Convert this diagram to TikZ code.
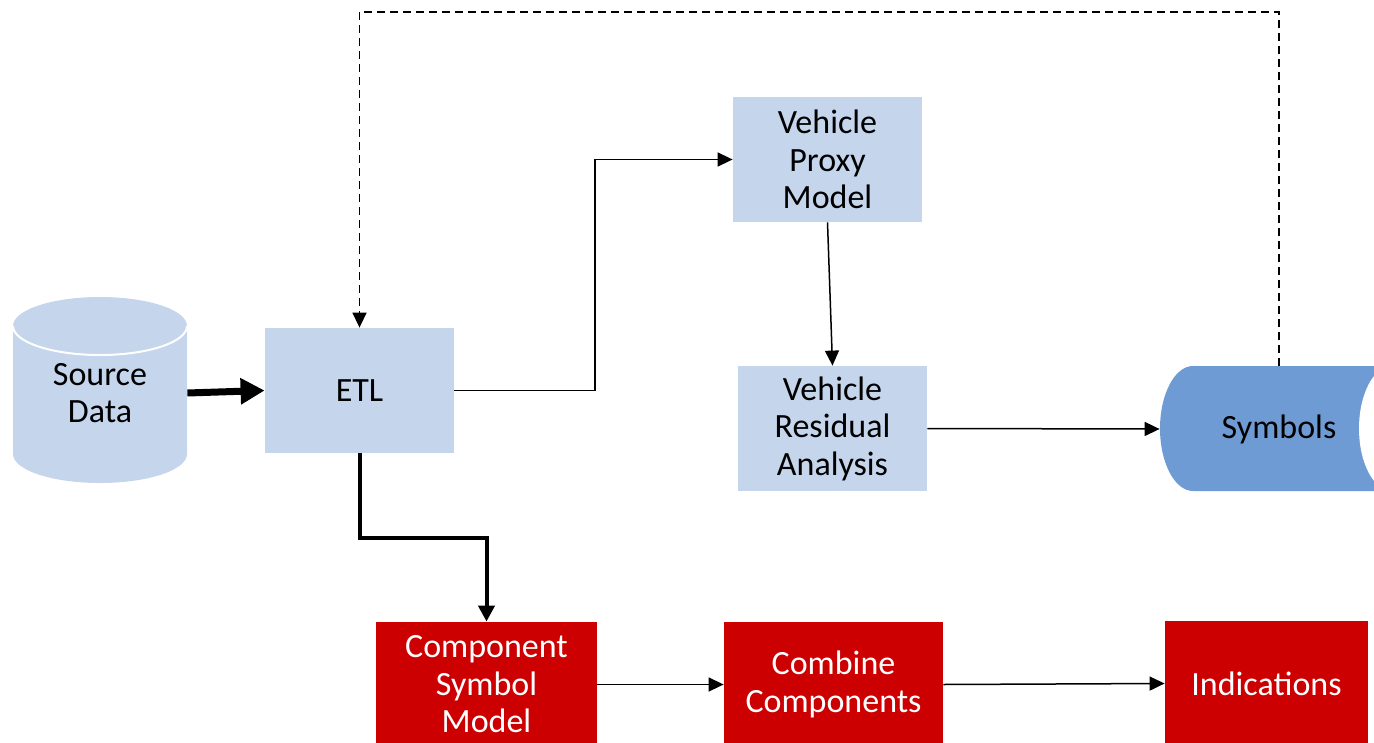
\documentclass[tikz,border=0pt]{standalone}
\usepackage{fontspec}
\setmainfont{Carlito}
\usetikzlibrary{arrows.meta}
\definecolor{paleblue}{HTML}{C4D5EC}
\definecolor{symblue}{HTML}{6F9BD4}
\definecolor{alertred}{HTML}{CC0000}
\tikzset{
  lbl/.style={font=\fontsize{17pt}{18.75pt}\selectfont, align=center, inner sep=0pt},
  bluebox/.style={lbl, fill=paleblue, minimum width=94.5pt, minimum height=62.5pt},
  redbox/.style={lbl, fill=alertred, text=white, minimum height=62.5pt},
  flow/.style={line width=0.75pt, -{Triangle[length=7.5pt,width=7pt]}},
  heavyflow/.style={line width=3.5pt, -{Triangle[length=12pt,width=12.5pt]}},
  midflow/.style={line width=2pt, -{Triangle[length=8pt,width=8pt]}},
  feedback/.style={line width=0.75pt, dash pattern=on 4pt off 2.5pt, -{Triangle[length=7.5pt,width=7pt]}}
}
\begin{document}
\begin{tikzpicture}[x=0.5pt, y=-0.5pt]
\useasboundingbox (0,0) rectangle (1374,743);

% database cylinder
\fill[paleblue] (13,326) -- (13,454) arc[start angle=180, end angle=360, x radius=87, y radius=-29]
  -- (187,326) arc[start angle=0, end angle=180, x radius=87, y radius=-29] -- cycle;
\draw[white, line width=1pt] (13,326) arc[start angle=180, end angle=360, x radius=87, y radius=-29];
\node[lbl, minimum width=87pt, minimum height=93pt] (src) at (100,393) {Source\\Data};

% stored-data shape
\fill[symblue] (1193,366) -- (1400,366) -- (1400,491) -- (1193,491)
  arc[start angle=270, end angle=90, x radius=33, y radius=-62.5] -- cycle;
\fill[white] (1392,366) arc[start angle=90, end angle=270, x radius=33, y radius=-62.5] -- (1400,491) -- (1400,366) -- cycle;
\node[lbl, minimum width=119pt, minimum height=62.5pt] (sym) at (1279,429) {Symbols};

% process boxes
\node[bluebox] (etl) at (359.5,390.5) {ETL};
\node[bluebox] (vpm) at (827.5,159.5) {Vehicle\\Proxy\\Model};
\node[bluebox] (vra) at (832.5,428.5) {Vehicle\\Residual\\Analysis};
\node[redbox, minimum width=110.5pt] (csm) at (486.5,684.5) {Component\\Symbol\\Model};
\node[redbox, minimum width=109.5pt] (cc) at (833.5,684.5) {Combine\\Components};
\node[redbox, minimum width=101.5pt] (ind) at (1266.5,683.5) {Indications};

% connectors
\draw[heavyflow] (src.east) -- (etl.west);
\draw[flow] (etl.east) -- (595,390.5) |- (vpm.west);
\draw[flow] (vpm.south) -- (vra.north);
\draw[flow] (vra.east) -- (sym.west);
\draw[feedback] (sym.north) -- (sym.north |- 0,12) -| (etl.north);
\draw[midflow] (etl.south) -- (359.5,538) -| (csm.north);
\draw[flow] (csm.east) -- (cc.west);
\draw[flow] (cc.east) -- (ind.west);
\end{tikzpicture}
\end{document}
